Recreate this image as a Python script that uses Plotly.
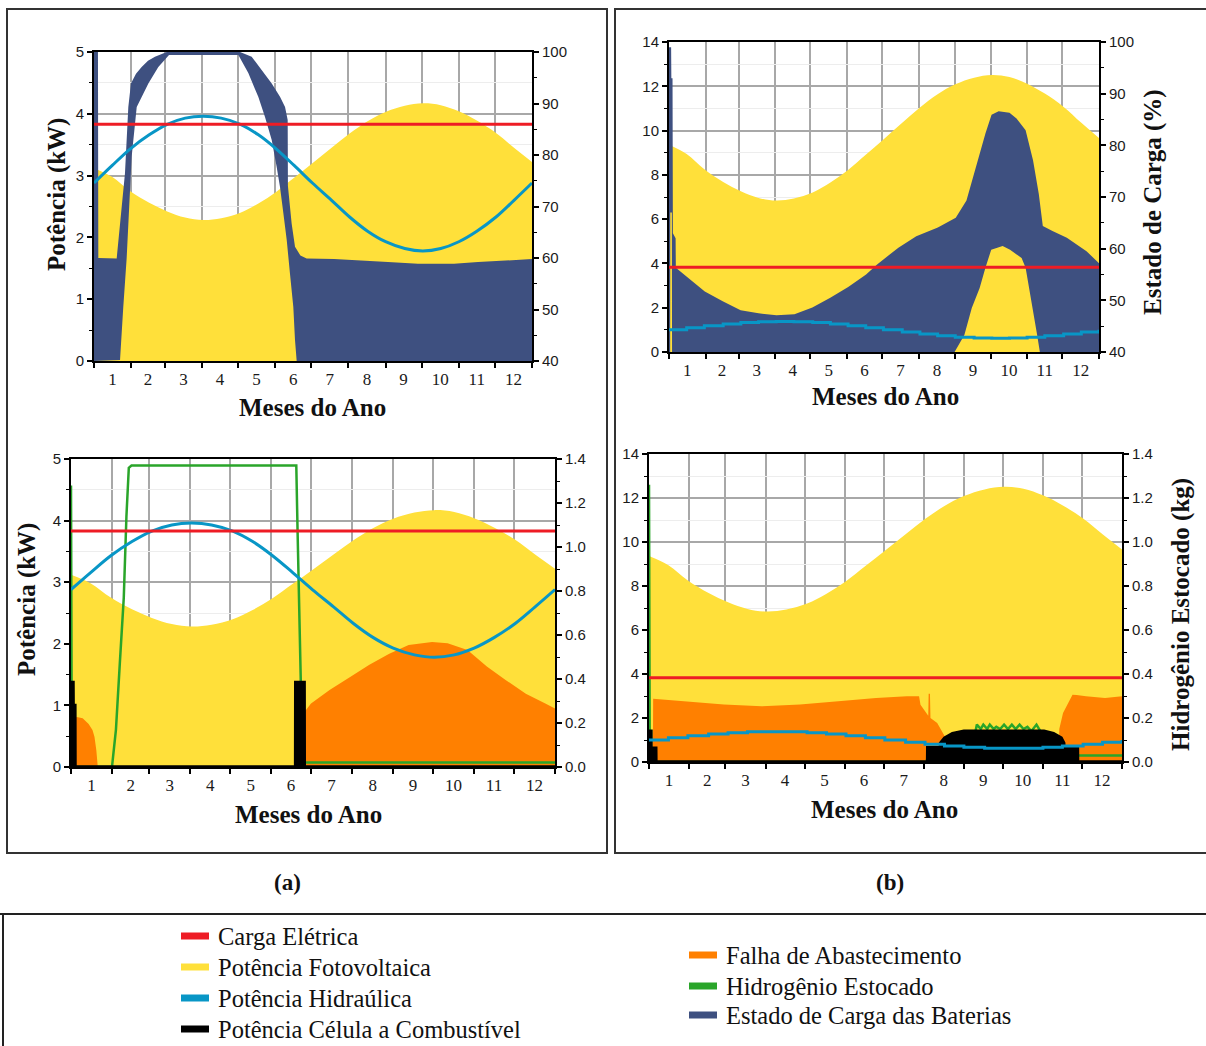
import plotly.graph_objects as go

W, H = 1206, 1046

# ---------------------------------------------------------------- data
# x axis is day of year; month boundaries and mid-month label positions
MONTH_EDGES = [0, 31, 59, 90, 120, 151, 181, 212, 243, 273, 304, 334, 365]
MONTH_MIDS = [15.5, 45, 74.5, 105, 135.5, 166, 196.5, 227.5, 258, 288.5, 319, 349.5]
MONTH_LABELS = ["1", "2", "3", "4", "5", "6", "7", "8", "9", "10", "11", "12"]

# half-month sampling days
DAYS = [0, 15, 30, 46, 61, 76, 91, 106, 122, 137, 152, 167, 182, 198, 213,
        228, 243, 259, 274, 289, 304, 319, 335, 350, 365]

# electrical load (kW)
LOAD_X = [0, 365]
LOAD_KW = [3.83, 3.83]

# photovoltaic power (kW): configuration (a) and (b)
PV_A = [3.12, 2.98, 2.75, 2.56, 2.42, 2.32, 2.28, 2.31, 2.40, 2.55, 2.74, 2.97, 3.20,
        3.45, 3.68, 3.88, 4.03, 4.13, 4.17, 4.14, 4.04, 3.89, 3.69, 3.45, 3.22]
PV_B = [9.36, 8.94, 8.25, 7.68, 7.26, 6.96, 6.84, 6.93, 7.20, 7.65, 8.22, 8.91, 9.60,
        10.35, 11.04, 11.64, 12.09, 12.39, 12.51, 12.42, 12.12, 11.67, 11.07, 10.35, 9.66]

# hydraulic power (kW)
HYD_A = [2.88, 3.16, 3.43, 3.66, 3.83, 3.93, 3.96, 3.93, 3.83, 3.66, 3.43, 3.16, 2.88,
         2.60, 2.33, 2.10, 1.93, 1.82, 1.78, 1.82, 1.93, 2.10, 2.33, 2.60, 2.88]
HYD_B = [1.00, 1.10, 1.19, 1.27, 1.33, 1.37, 1.38, 1.37, 1.33, 1.27, 1.19, 1.10, 1.00,
         0.90, 0.81, 0.73, 0.67, 0.63, 0.62, 0.63, 0.67, 0.73, 0.81, 0.90, 1.00]

# battery state of charge (%): daily maximum and daily minimum envelopes, (a)
SOC_A_MAX_X = [0, 3.3, 3.6, 18.9, 25.8, 28.6, 30.8, 35, 39.7, 45, 50.8, 60.6, 121.7,
               131.4, 139.7, 148.1, 155, 159.2, 161.4, 161.6, 164.7, 167.5, 172, 177.2,
               200, 225, 245, 270, 300, 320, 345, 365]
SOC_A_MAX = [100, 100, 60, 59.9, 76.4, 89.3, 93.9, 95.8, 97.1, 98.3, 99.1, 100, 100,
             99.1, 96.5, 93.9, 91.3, 89.3, 86.8, 74, 66.7, 62.2, 60.5, 59.9,
             59.8, 59.4, 59.2, 58.9, 58.9, 59.2, 59.5, 59.8]
SOC_A_MIN_X = [0, 21.7, 24.4, 27.2, 29.2, 31.4, 35.6, 45.3, 53.6, 62.5, 120.3, 128.6,
               136.9, 142.5, 148.1, 152.2, 155, 157.8, 160.6, 163.3, 166.1, 167.5,
               168.9, 365]
SOC_A_MIN = [40, 40.2, 50.5, 59.9, 69.9, 79.7, 89.3, 93.9, 97.1, 99.4, 99.4, 95.9,
             91.3, 87.4, 82.9, 77.7, 73.8, 68.7, 63.5, 57.0, 50.5, 44.1, 40, 40]

# battery state of charge (%), (b)
SOC_B_MAX_X = [0, 1.8, 2.0, 3.0, 3.3, 5.6, 5.8, 15.2, 30.4, 45.6, 60.8, 76, 91.3,
               106.5, 121.7, 136.9, 152.1, 167.3, 176.4, 194.7, 209.9, 228.2, 243.4,
               252.5, 260.4, 268.6, 273.8, 279.8, 289, 295, 302.7, 309, 313.9, 317.3,
               325.5, 337.7, 354.4, 365]
SOC_B_MAX = [99, 99, 93, 93, 63, 62, 56.3, 54.5, 51.7, 49.8, 48.1, 47.5, 47.1,
             47.3, 48.6, 50.5, 52.6, 55.0, 56.9, 60.2, 62.4, 64.1, 66.0,
             69.3, 75.8, 82.3, 85.9, 86.6, 86.3, 85.2, 82.9, 77.1, 70.6, 64.4,
             63.4, 62.1, 59.5, 57.2]
SOC_B_MIN_X = [0, 1.0, 1.1, 2.4, 2.6, 242.4, 250.7, 257, 263.7, 268.6, 273.5, 283.2,
               289.5, 299.3, 302.7, 305.7, 309, 312.5, 314.8, 365]
SOC_B_MIN = [40, 40, 67, 67, 40, 40, 43.3, 48.5, 52.4, 56.3, 59.8, 60.5,
             59.8, 58.2, 56.3, 52.4, 47.8, 43.3, 40, 40]

# supply failure (kW)
FAIL_A_X = [0, 3.0, 3.1, 4.4, 8.8, 13.3, 16.2, 17.7, 19.1, 20.0, 20.2, 175.8, 175.9,
            181, 195, 210.5, 225, 240, 254.6, 272.3, 284, 299, 313.6, 328, 343, 357.7, 365]
FAIL_A = [0, 0, 0.80, 0.81, 0.79, 0.70, 0.60, 0.49, 0.27, 0.03, 0, 0, 0.89,
          1.03, 1.25, 1.46, 1.66, 1.84, 1.98, 2.03, 2.01, 1.90, 1.63, 1.41, 1.19, 1.03, 0.95]
FAIL_B_X = [0, 3.0, 3.2, 28.3, 57.8, 87, 116.5, 146, 175.2, 199, 208.4, 209.5, 212,
            215.5, 215.8, 216.8, 217.2, 222.4, 228.2, 231.2, 231.5, 316, 316.6, 317.5,
            319.5, 326.8, 330, 337.2, 351.9, 365]
FAIL_B = [0, 0, 2.87, 2.76, 2.61, 2.53, 2.61, 2.76, 2.91, 2.99, 2.99, 2.60, 2.38,
          2.10, 3.10, 3.10, 2.00, 1.77, 1.17, 0.30, 0, 0, 1.50, 1.77,
          2.23, 3.06, 3.05, 2.99, 2.91, 2.99]

# fuel cell power (kW)
FC_A_X = [0, 1.5, 1.6, 2.9, 3.0, 169.4, 169.5, 175.8, 175.9, 365]
FC_A = [1.37, 1.37, 1.0, 1.0, 0, 0, 1.37, 1.37, 0, 0]
FC_B_X = [0, 1.5, 1.6, 4.0, 4.1, 5.2, 5.3, 215, 215.1, 224.8, 225, 228.2, 234.2, 243,
          304.8, 312.1, 318, 320, 320.2, 330.6, 330.7, 365]
FC_B = [1.40, 1.40, 0, 0, 0.62, 0.62, 0, 0, 0.65, 0.65, 0.86, 1.09, 1.29, 1.40,
        1.40, 1.29, 1.09, 0.86, 0.65, 0.65, 0, 0]

# stored hydrogen (kg)
H2_A_X = [0, 0.6, 30.9, 33.9, 36.8, 39.8, 41.8, 43.6, 45.6, 169.9, 170.8, 172.3, 174.6, 365]
H2_A = [1.28, 0, 0, 0.17, 0.47, 0.77, 1.14, 1.36, 1.37, 1.37, 1.09, 0.65, 0.02, 0.02]
H2_B_X = [0, 0.6, 214, 215, 240, 252, 253, 256, 258, 261, 263, 266, 268, 271, 274,
          277, 280, 283, 286, 289, 292, 295, 299, 302, 310, 330.7, 365]
H2_B = [1.26, 0, 0, 0.02, 0.08, 0.14, 0.17, 0.15, 0.17, 0.15, 0.17, 0.15, 0.16, 0.15,
        0.17, 0.15, 0.17, 0.15, 0.17, 0.15, 0.16, 0.14, 0.17, 0.14, 0.10, 0.03, 0.03]

# ---------------------------------------------------------------- styles
YELLOW = "#ffe03a"
NAVY = "#3e5080"
BLUE = "#0896c6"
RED = "#ee1c25"
ORANGE = "#ff8000"
GREEN = "#2aa52a"
BLACK = "#000000"
GRID = "#a8a8a8"
GRID_MINOR = "#ededed"

SANS = "Liberation Sans, Arial, sans-serif"
SERIF = "Liberation Serif, Times New Roman, serif"
TICK_SANS = dict(family=SANS, size=15, color="#1a1a1a")
TICK_SERIF = dict(family=SERIF, size=17, color="#1a1a1a")

layout = dict(
    width=W, height=H,
    margin=dict(l=0, r=0, t=0, b=0, pad=0, autoexpand=False),
    paper_bgcolor="white", plot_bgcolor="white",
    showlegend=False,
    annotations=[], shapes=[],
)


def add_axes(n, box, ymax, ydtick, yminor, y2range, y2dtick, y2minor, y2fmt):
    """Create x, left y, right y and a hidden top-layer y axis for panel n."""
    xs = "" if n == 1 else str(n)
    base = 3 * (n - 1) + 1
    ids = [base, base + 1, base + 2]
    yid = lambda k: "y" if k == 1 else f"y{k}"
    yname = lambda k: "yaxis" if k == 1 else f"yaxis{k}"
    x0, x1, ytop, ybot = box
    ydom = [1 - ybot / H, 1 - ytop / H]
    layout["xaxis" + xs] = dict(
        domain=[x0 / W, x1 / W], anchor=yid(ids[0]), range=[0, 365], automargin=False,
        tickmode="array", tickvals=MONTH_MIDS, ticktext=MONTH_LABELS,
        ticks="outside", ticklen=2, tickcolor="rgba(0,0,0,0)",
        tickfont=TICK_SERIF, showgrid=False, zeroline=False,
        showline=True, linecolor=BLACK, linewidth=2, mirror=True,
        minor=dict(tickmode="array", tickvals=MONTH_EDGES, ticks="outside",
                   ticklen=5, tickwidth=1.5, tickcolor=BLACK,
                   showgrid=True, gridcolor=GRID, gridwidth=1.5),
    )
    layout[yname(ids[0])] = dict(
        domain=ydom, anchor="x" + xs, range=[0, ymax], automargin=False,
        tickmode="linear", tick0=0, dtick=ydtick,
        ticks="outside", ticklen=5, tickwidth=1.5, tickcolor=BLACK,
        tickfont=TICK_SANS, showgrid=True, gridcolor=GRID, gridwidth=1.5,
        zeroline=False, showline=True, linecolor=BLACK, linewidth=2, mirror=True,
        minor=dict(dtick=yminor, ticks="outside", ticklen=3, tickwidth=1,
                   tickcolor=BLACK, showgrid=True, gridcolor=GRID_MINOR, gridwidth=1),
    )
    layout[yname(ids[1])] = dict(
        overlaying=yid(ids[0]), side="right", anchor="x" + xs, range=y2range,
        automargin=False,
        tickmode="linear", tick0=y2range[0], dtick=y2dtick, tickformat=y2fmt,
        ticks="outside", ticklen=5, tickwidth=1.5, tickcolor=BLACK,
        tickfont=TICK_SANS, showgrid=False, zeroline=False,
        showline=True, linecolor=BLACK, linewidth=2,
        minor=dict(dtick=y2minor, ticks="outside", ticklen=3, tickwidth=1,
                   tickcolor=BLACK, showgrid=False),
    )
    layout[yname(ids[2])] = dict(
        overlaying=yid(ids[0]), anchor="x" + xs, range=[0, ymax], visible=False,
        automargin=False,
    )
    return "x" + xs, yid(ids[0]), yid(ids[1]), yid(ids[2])


fig = go.Figure()


def area(x, y, color, xa, ya, shape="linear"):
    fig.add_trace(go.Scatter(x=x, y=y, xaxis=xa, yaxis=ya, mode="lines",
                             line=dict(width=0, color=color, shape=shape),
                             fill="tozeroy", fillcolor=color, hoverinfo="skip"))


def band(xu, yu, xl, yl, color, xa, ya):
    fig.add_trace(go.Scatter(x=list(xu) + list(xl)[::-1], y=list(yu) + list(yl)[::-1],
                             xaxis=xa, yaxis=ya, mode="lines",
                             line=dict(width=0, color=color),
                             fill="toself", fillcolor=color, hoverinfo="skip"))


def line(x, y, color, width, xa, ya, shape="linear"):
    fig.add_trace(go.Scatter(x=x, y=y, xaxis=xa, yaxis=ya, mode="lines",
                             line=dict(width=width, color=color, shape=shape),
                             hoverinfo="skip"))


def fuel_cell(x, y, xa, ya):
    fig.add_trace(go.Scatter(x=x, y=y, xaxis=xa, yaxis=ya, mode="lines",
                             line=dict(width=3.5, color=BLACK),
                             fill="tozeroy", fillcolor=BLACK, hoverinfo="skip"))


# panel (a) top: PV, hydro, load and battery state of charge
xa, yl, yr, yt = add_axes(1, (94, 532, 52, 361), 5, 1, 0.5, [40, 100], 10, 5, "d")
area(DAYS, PV_A, YELLOW, xa, yl, "spline")
band(SOC_A_MAX_X, SOC_A_MAX, SOC_A_MIN_X, SOC_A_MIN, NAVY, xa, yr)
line(DAYS, HYD_A, BLUE, 3, xa, yt, "spline")
line(LOAD_X, LOAD_KW, RED, 3, xa, yt)

# panel (b) top
xa, yl, yr, yt = add_axes(2, (669, 1099, 42, 352), 14, 2, 1, [40, 100], 10, 5, "d")
area(DAYS, PV_B, YELLOW, xa, yl, "spline")
band(SOC_B_MAX_X, SOC_B_MAX, SOC_B_MIN_X, SOC_B_MIN, NAVY, xa, yr)
line(DAYS, HYD_B, BLUE, 3, xa, yt, "hv")
line(LOAD_X, LOAD_KW, RED, 3, xa, yt)

# panel (a) bottom: PV, supply failure, hydrogen, fuel cell
xa, yl, yr, yt = add_axes(3, (71, 555, 459, 767), 5, 1, 0.5, [0, 1.4], 0.2, 0.1, ".1f")
area(DAYS, PV_A, YELLOW, xa, yl, "spline")
area(FAIL_A_X, FAIL_A, ORANGE, xa, yl)
line(H2_A_X, H2_A, GREEN, 2.5, xa, yr)
fuel_cell(FC_A_X, FC_A, xa, yt)
line(DAYS, HYD_A, BLUE, 3, xa, yt, "spline")
line(LOAD_X, LOAD_KW, RED, 3, xa, yt)

# panel (b) bottom
xa, yl, yr, yt = add_axes(4, (649, 1122, 454, 762), 14, 2, 1, [0, 1.4], 0.2, 0.1, ".1f")
area(DAYS, PV_B, YELLOW, xa, yl, "spline")
area(FAIL_B_X, FAIL_B, ORANGE, xa, yl)
line(H2_B_X, H2_B, GREEN, 2.5, xa, yr)
fuel_cell(FC_B_X, FC_B, xa, yt)
line(DAYS, HYD_B, BLUE, 3, xa, yt, "hv")
line(LOAD_X, LOAD_KW, RED, 3, xa, yt)


# ---------------------------------------------------------------- text and frames
def text(px, py, s, size, angle=0, bold=True, family=SERIF, xanchor="center"):
    layout["annotations"].append(dict(
        x=px / W, y=1 - py / H, xref="paper", yref="paper", showarrow=False,
        text=f"<b>{s}</b>" if bold else s, textangle=angle,
        xanchor=xanchor, yanchor="middle",
        font=dict(family=family, size=size, color="#111111")))


text(57, 195, "Potência (kW)", 25, -90)
text(27, 600, "Potência (kW)", 25, -90)
text(1153, 202, "Estado de Carga (%)", 25, -90)
text(1181, 615, "Hidrogênio Estocado (kg)", 25, -90)
text(312, 407, "Meses do Ano", 25)
text(885, 397, "Meses do Ano", 25)
text(308, 814, "Meses do Ano", 25)
text(884, 809, "Meses do Ano", 25)
text(287, 882, "(a)", 23)
text(890, 882, "(b)", 23)


def rect(x0, y0, x1, y1, color, width=0, fill=None):
    layout["shapes"].append(dict(
        type="rect", xref="paper", yref="paper",
        x0=x0 / W, x1=x1 / W, y0=1 - y1 / H, y1=1 - y0 / H,
        line=dict(color=color, width=width), fillcolor=fill))


def seg(x0, y0, x1, y1, color="#222222", width=2):
    layout["shapes"].append(dict(
        type="line", xref="paper", yref="paper",
        x0=x0 / W, x1=x1 / W, y0=1 - y0 / H, y1=1 - y1 / H,
        line=dict(color=color, width=width)))


rect(7, 9, 607, 853, "#333333", 2)
rect(615, 9, 1215, 853, "#333333", 2)
seg(0, 914, 1206, 914)
seg(3, 914, 3, 1050)

LEGEND_LEFT = [("Carga Elétrica", RED, 936), ("Potência Fotovoltaica", YELLOW, 967),
               ("Potência Hidraúlica", BLUE, 998), ("Potência Célula a Combustível", BLACK, 1029)]
LEGEND_RIGHT = [("Falha de Abastecimento", ORANGE, 955), ("Hidrogênio Estocado", GREEN, 986),
                ("Estado de Carga das Baterias", NAVY, 1015)]
for items, sx in ((LEGEND_LEFT, 181), (LEGEND_RIGHT, 689)):
    for label, color, py in items:
        rect(sx, py - 3.5, sx + 28, py + 3.5, color, 0, color)
        text(sx + 35, py, label, 24.5, bold=False, xanchor="left")

fig.update_layout(**layout)
fig.write_html("out.html")
